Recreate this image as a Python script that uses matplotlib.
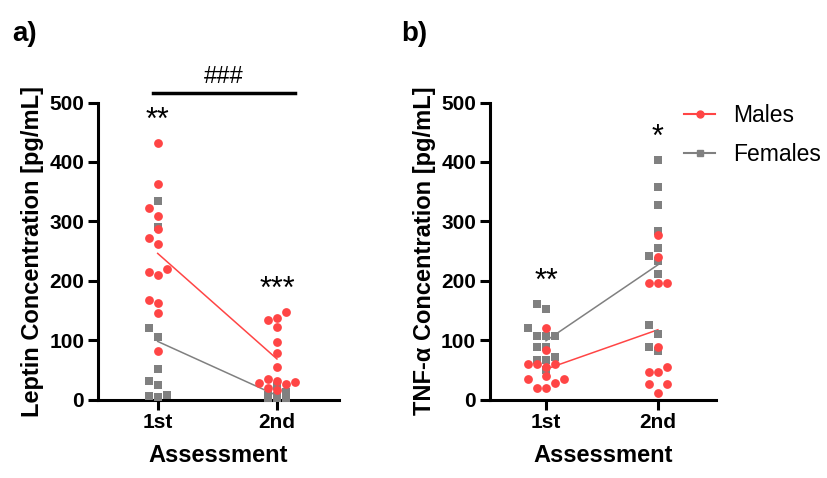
import numpy as np
import matplotlib
matplotlib.use("Agg")
import matplotlib.pyplot as plt
from matplotlib.lines import Line2D

plt.rcParams['font.family'] = ['Liberation Sans', 'DejaVu Sans']

# Data
assessments = ["1st", "2nd"]

leptin_males_1st = [432, 362, 322, 309, 287, 272, 261, 220, 214, 209, 168, 162, 145, 81]
leptin_males_2nd = [148, 138, 134, 122, 97, 79, 54, 34, 31, 30, 28, 26, 19, 16]
leptin_females_1st = [334, 291, 121, 106, 51, 32, 25, 7, 6, 5]
leptin_females_2nd = [22, 12, 8, 6, 5, 4, 3, 3, 2, 2]

tnf_males_1st = [121, 83, 60, 60, 60, 55, 39, 34, 34, 28, 20, 20]
tnf_males_2nd = [277, 240, 197, 197, 197, 89, 55, 47, 47, 26, 26, 11]
tnf_females_1st = [161, 153, 121, 107, 107, 107, 89, 89, 71, 66, 66, 49]
tnf_females_2nd = [403, 358, 328, 284, 255, 241, 233, 211, 126, 111, 89, 82]

leptin_stars = ["**", "***"]
tnf_stars = ["**", "*"]

red = "#FF4545"
grey = "#808080"

fig = plt.figure(figsize=(8.28, 4.78), dpi=100)
ax1 = fig.add_axes([0.1184, 0.1642, 0.291, 0.6213])
ax2 = fig.add_axes([0.5918, 0.1642, 0.273, 0.6213])


def swarm(ax, xc, vals, step=9.0, thr=9.5, max_slot=2):
    # simple beeswarm in pixel space: lowest values first, centre then sides
    vals = np.asarray(vals, dtype=float)
    pts = ax.transData.transform(np.column_stack([np.full(len(vals), xc), vals]))
    slots = [0]
    for k in range(1, max_slot + 1):
        slots += [-k, k]
    placed = {s: [] for s in slots}
    xs = np.zeros(len(vals))
    for i in np.argsort(vals):
        y = pts[i, 1]
        best = None
        for s in slots:
            if all(abs(y - py) >= thr for py in placed[s]):
                best = s
                break
        if best is None:
            best = min(slots, key=lambda s: len(placed[s]))
        placed[best].append(y)
        xs[i] = pts[i, 0] + best * step
    back = ax.transData.inverted().transform(np.column_stack([xs, pts[:, 1]]))
    return back[:, 0]


def style_axes(ax, ylabel):
    ax.set_xlim(-0.5, 1.52)
    ax.set_ylim(0, 500)
    ax.set_yticks([0, 100, 200, 300, 400, 500])
    ax.set_xticks([0, 1])
    ax.set_xticklabels(assessments)
    for s in ["top", "right"]:
        ax.spines[s].set_visible(False)
    for s in ["left", "bottom"]:
        ax.spines[s].set_linewidth(2.2)
    ax.tick_params(axis="both", direction="out", length=7, width=2.2, labelsize=15, pad=3)
    for lab in ax.get_xticklabels() + ax.get_yticklabels():
        lab.set_fontweight("bold")
    ax.set_xlabel("Assessment", fontsize=17, fontweight="bold", labelpad=8)
    ax.set_ylabel(ylabel, fontsize=17, fontweight="bold", labelpad=4)


style_axes(ax1, "Leptin Concentration [pg/mL]")
style_axes(ax2, "TNF-\u03b1 Concentration [pg/mL]")


def draw_group(ax, males, females, stars, fem_slots=(2, 2)):
    # means as connecting lines
    ax.plot([0, 1], [np.mean(males[0]), np.mean(males[1])], color=red, lw=1.1, zorder=2)
    ax.plot([0, 1], [np.mean(females[0]), np.mean(females[1])], color=grey, lw=1.1, zorder=2)
    for i in range(2):
        xf = swarm(ax, i, females[i], max_slot=fem_slots[i])
        ax.scatter(xf, females[i], marker="s", s=34, color=grey, lw=0, zorder=3, clip_on=False)
        xm = swarm(ax, i, males[i])
        ax.scatter(xm, males[i], marker="o", s=40, color=red, lw=0, zorder=4, clip_on=False)
        top = max(max(males[i]), max(females[i]))
        ax.text(i, top + 12, stars[i], ha="center", va="bottom", fontsize=22, clip_on=False)


draw_group(ax1, [leptin_males_1st, leptin_males_2nd], [leptin_females_1st, leptin_females_2nd],
           leptin_stars, fem_slots=(2, 1))
draw_group(ax2, [tnf_males_1st, tnf_males_2nd], [tnf_females_1st, tnf_females_2nd], tnf_stars)

# comparison bar between assessments (males)
ax1.plot([-0.04, 1.15], [516, 516], color="black", lw=2.5, clip_on=False)
ax1.text(0.555, 524, "###", ha="center", va="bottom", fontsize=17, clip_on=False)

# panel labels
fig.text(0.015, 0.915, "a)", fontsize=20, fontweight="bold")
fig.text(0.485, 0.915, "b)", fontsize=20, fontweight="bold")

handles = [
    Line2D([0], [0], color=red, lw=1.5, marker="o", markersize=5),
    Line2D([0], [0], color=grey, lw=1.5, marker="s", markersize=4.5),
]
fig.legend(handles, ["Males", "Females"], loc="upper left", bbox_to_anchor=(0.8015, 0.826),
           frameon=False, fontsize=16.5, handlelength=1.36, handletextpad=0.76, labelspacing=0.7)

fig.savefig("out.png", dpi=100)
